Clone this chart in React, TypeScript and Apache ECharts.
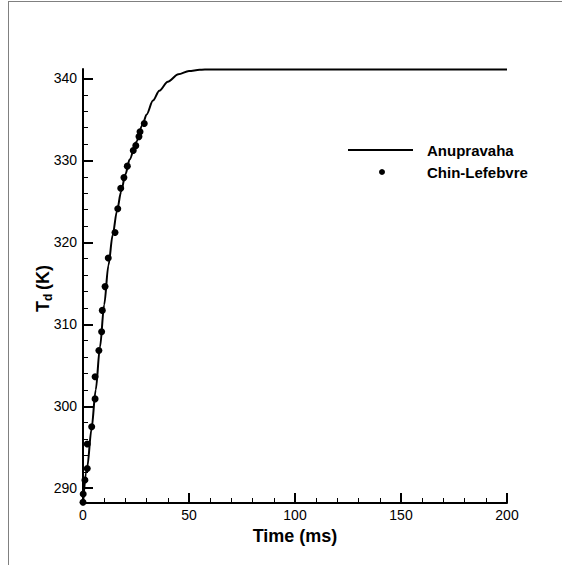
import React, { useEffect, useRef } from "react";
import * as echarts from "echarts";

const curveTime = [0, 2, 4, 6, 8, 10, 12, 14, 16, 18, 20, 22, 25, 28, 30, 33, 36, 40, 45, 50, 55, 60, 80, 120, 160, 200];
const curveTemp = [288.2, 292.6, 297.2, 302.0, 307.2, 312.4, 317.2, 320.9, 323.8, 326.2, 328.3, 330.1, 332.2, 334.3, 335.6, 337.3, 338.5, 339.6, 340.5, 340.9, 341.05, 341.1, 341.1, 341.1, 341.1, 341.1];

const expTime = [0, 0.1, 0.9, 2.0, 2.0, 4.1, 5.7, 5.7, 7.5, 8.8, 9.1, 10.4, 11.9, 15.1, 16.4, 17.8, 19.3, 20.9, 23.7, 24.9, 26.4, 26.9, 28.9];
const expTemp = [288.3, 289.3, 291.0, 292.4, 295.4, 297.5, 300.9, 303.6, 306.8, 309.1, 311.7, 314.6, 318.1, 321.2, 324.1, 326.6, 327.9, 329.3, 331.2, 331.8, 332.9, 333.5, 334.5];

const xMajor = [0, 50, 100, 150, 200];
const xMinor = [10, 20, 30, 40, 60, 70, 80, 90, 110, 120, 130, 140, 160, 170, 180, 190];
const yMajor = [290, 300, 310, 320, 330, 340];
const yMinor = [292, 294, 296, 298, 302, 304, 306, 308, 312, 314, 316, 318, 322, 324, 326, 328, 332, 334, 336, 338];

const seriesNames = ["Anupravaha", "Chin-Lefebvre"];

export default function App() {
  const ref = useRef<HTMLDivElement>(null);
  useEffect(() => {
    if (!ref.current) return;
    const chart = echarts.init(ref.current, null, { renderer: "svg" });
    const font = "Arial, 'Liberation Sans', sans-serif";
    const xMin = 0, xMax = 200, yMin = 288.2, yMax = 341.15;
    chart.setOption({
      animation: false,
      textStyle: { fontFamily: font },
      grid: { left: 83, right: 55, top: 69, bottom: 62, containLabel: false },
      xAxis: [
        {
          type: "value", min: xMin, max: xMax, position: "bottom",
          axisLine: { show: true, onZero: false, lineStyle: { color: "#000", width: 2 } },
          axisTick: { show: true, inside: true, length: 10, customValues: xMajor, lineStyle: { color: "#000", width: 2 } },
          axisLabel: { show: true, customValues: xMajor, margin: 5, color: "#000", fontSize: 14, fontFamily: font },
          splitLine: { show: false },
          name: "Time (ms)", nameLocation: "middle", nameGap: 18,
          nameTextStyle: { color: "#000", fontSize: 18, fontWeight: "bold", fontFamily: font },
        },
        {
          type: "value", min: xMin, max: xMax, position: "bottom", offset: 0,
          axisLine: { show: false, onZero: false },
          axisTick: { show: true, inside: true, length: 5, customValues: xMinor, lineStyle: { color: "#000", width: 1 } },
          axisLabel: { show: false },
          splitLine: { show: false },
        },
      ],
      yAxis: [
        {
          type: "value", min: yMin, max: yMax, position: "left",
          axisLine: { show: true, onZero: false, lineStyle: { color: "#000", width: 2 } },
          axisTick: { show: true, inside: true, length: 10, customValues: yMajor, lineStyle: { color: "#000", width: 2 } },
          axisLabel: { show: true, customValues: yMajor, margin: 6, color: "#000", fontSize: 14, fontFamily: font },
          splitLine: { show: false },
        },
        {
          type: "value", min: yMin, max: yMax, position: "left", offset: 0,
          axisLine: { show: false, onZero: false },
          axisTick: { show: true, inside: true, length: 5, customValues: yMinor, lineStyle: { color: "#000", width: 1 } },
          axisLabel: { show: false },
          splitLine: { show: false },
        },
      ],
      series: [
        {
          name: seriesNames[0], type: "line", xAxisIndex: 0, yAxisIndex: 0,
          data: curveTime.map((t, i) => [t, curveTemp[i]]),
          showSymbol: false, symbol: "none", smooth: 0.3, smoothMonotone: "x",
          lineStyle: { color: "#000", width: 2 }, z: 3,
        },
        {
          name: seriesNames[1], type: "scatter", xAxisIndex: 0, yAxisIndex: 0,
          data: expTime.map((t, i) => [t, expTemp[i]]),
          symbol: "circle", symbolSize: 7,
          itemStyle: { color: "#000", opacity: 1 }, z: 4,
        },
      ],
      graphic: [
        {
          type: "group", x: 43, y: 288, rotation: Math.PI / 2,
          children: [
            { type: "text", x: -24, y: 0, style: { text: "T", font: `bold 18px ${font}`, fill: "#000", verticalAlign: "middle", align: "left" } },
            { type: "text", x: -13, y: 5, style: { text: "d", font: `bold 12px ${font}`, fill: "#000", verticalAlign: "middle", align: "left" } },
            { type: "text", x: -2, y: 0, style: { text: "(K)", font: `bold 18px ${font}`, fill: "#000", verticalAlign: "middle", align: "left" } },
          ],
        },
        { type: "line", shape: { x1: 348, y1: 150, x2: 413, y2: 150 }, style: { stroke: "#000", lineWidth: 2 } },
        { type: "text", x: 427, y: 150, style: { text: seriesNames[0], font: `bold 15px ${font}`, fill: "#000", verticalAlign: "middle" } },
        { type: "circle", shape: { cx: 382, cy: 172, r: 3 }, style: { fill: "#000" } },
        { type: "text", x: 427, y: 172, style: { text: seriesNames[1], font: `bold 15px ${font}`, fill: "#000", verticalAlign: "middle" } },
      ],
    });
    return () => chart.dispose();
  }, []);
  return (
    <div style={{ position: "absolute", left: 0, top: 0, width: 562, height: 565, background: "#fff", overflow: "hidden" }}>
      <div ref={ref} style={{ position: "absolute", left: 0, top: 0, width: 562, height: 565 }} />
      <div style={{ position: "absolute", left: 8, top: 1, width: 600, height: 600, borderLeft: "1px solid #808080", borderTop: "1px solid #808080", pointerEvents: "none" }} />
    </div>
  );
}
